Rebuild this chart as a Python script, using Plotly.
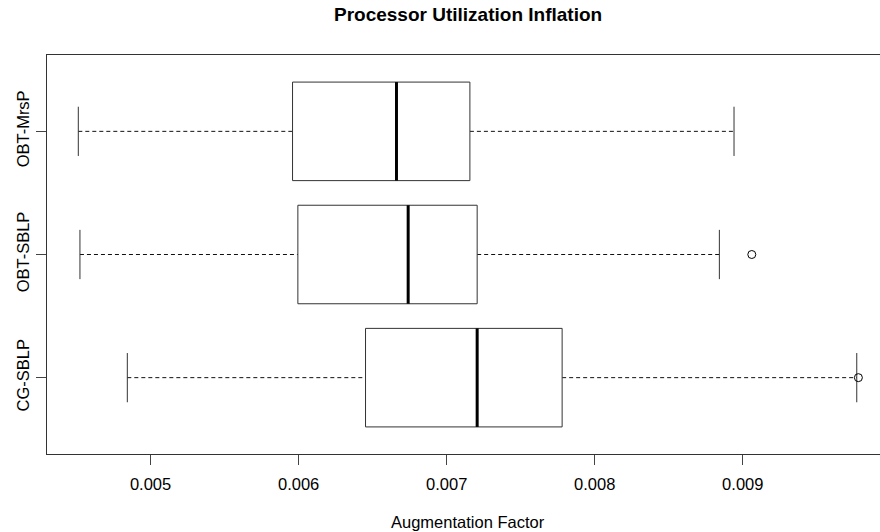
import plotly.graph_objects as go

# ---- data ----
categories = ["CG-SBLP", "OBT-SBLP", "OBT-MrsP"]
lower_whisker = [0.004843, 0.004523, 0.004512]
q1 = [0.006452, 0.005995, 0.005959]
median = [0.007206, 0.006740, 0.006661]
q3 = [0.007780, 0.007206, 0.007157]
upper_whisker = [0.009770, 0.008842, 0.008941]
outlier_cat = ["OBT-SBLP", "CG-SBLP"]
outlier_val = [0.009061, 0.009781]
x_ticks = [0.005, 0.006, 0.007, 0.008, 0.009]
x_ticklabels = ["0.005", "0.006", "0.007", "0.008", "0.009"]

FONT = "Liberation Sans, Arial, Helvetica, sans-serif"
pos = {c: i + 1 for i, c in enumerate(categories)}
hw = 0.4   # half box width
sw = 0.2   # half staple width

fig = go.Figure()

# whiskers (dashed)
wx, wy = [], []
for i, c in enumerate(categories):
    p = pos[c]
    wx += [lower_whisker[i], q1[i], None, q3[i], upper_whisker[i], None]
    wy += [p, p, None, p, p, None]
fig.add_trace(go.Scatter(x=wx, y=wy, mode="lines",
                         line=dict(color="#111", width=1, dash="4px,3px"),
                         hoverinfo="skip", showlegend=False))

# staples
sx, sy = [], []
for i, c in enumerate(categories):
    p = pos[c]
    for v in (lower_whisker[i], upper_whisker[i]):
        sx += [v, v, None]
        sy += [p - sw, p + sw, None]
fig.add_trace(go.Scatter(x=sx, y=sy, mode="lines",
                         line=dict(color="#333", width=1),
                         hoverinfo="skip", showlegend=False))

# boxes
bx, by = [], []
for i, c in enumerate(categories):
    p = pos[c]
    bx += [q1[i], q3[i], q3[i], q1[i], q1[i], None]
    by += [p - hw, p - hw, p + hw, p + hw, p - hw, None]
fig.add_trace(go.Scatter(x=bx, y=by, mode="lines", fill="toself",
                         fillcolor="white",
                         line=dict(color="#333", width=1),
                         hoverinfo="skip", showlegend=False))

# medians
mx, my = [], []
for i, c in enumerate(categories):
    p = pos[c]
    mx += [median[i], median[i], None]
    my += [p - hw, p + hw, None]
fig.add_trace(go.Scatter(x=mx, y=my, mode="lines",
                         line=dict(color="black", width=3),
                         hoverinfo="skip", showlegend=False))

# outliers
fig.add_trace(go.Scatter(x=outlier_val, y=[pos[c] for c in outlier_cat],
                         mode="markers",
                         marker=dict(symbol="circle-open", size=8,
                                     color="black", line=dict(width=1)),
                         hoverinfo="skip", showlegend=False))

fig.update_layout(
    width=880, height=532, autosize=False,
    margin=dict(l=47, r=0, t=55, b=78, pad=0),
    paper_bgcolor="white", plot_bgcolor="white",
    font=dict(family=FONT, color="black", size=16.5),
    xaxis=dict(range=[0.0043005, 0.009927], tickvals=x_ticks,
               ticktext=x_ticklabels, ticks="outside", ticklen=10,
               tickcolor="#444", showgrid=False, zeroline=False,
               showline=True, linecolor="#333", linewidth=1, mirror=True,
               tickfont=dict(size=16.5), ticklabelstandoff=5),
    yaxis=dict(range=[0.38, 3.62], tickvals=[pos[c] for c in categories],
               ticktext=categories, tickangle=-90, ticks="outside",
               ticklen=10, tickcolor="#444", showgrid=False, zeroline=False,
               showline=True, linecolor="#333", linewidth=1, mirror=False,
               tickfont=dict(size=16.5)),
    annotations=[
        dict(text="<b>Processor Utilization Inflation</b>", xref="paper",
             yref="paper", x=0.5054, y=1.1003, xanchor="center",
             yanchor="middle", showarrow=False, font=dict(size=19)),
        dict(text="Augmentation Factor", xref="paper", yref="paper",
             x=0.5054, y=-0.1704, xanchor="center", yanchor="middle",
             showarrow=False, font=dict(size=16.5)),
    ],
)

fig.write_html("out.html")
